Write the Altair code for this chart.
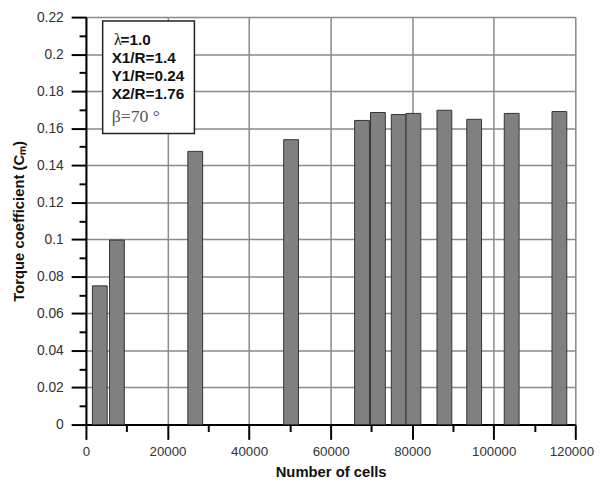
import altair as alt
import pandas as pd

# ---- data ----
cells = [3400, 7600, 26800, 50300, 67700, 71600, 76700, 80300, 87900, 95200, 104400, 116100]
cm = [0.0749, 0.0996, 0.1475, 0.1538, 0.1642, 0.1685, 0.1674, 0.1680, 0.1697, 0.1648, 0.1680, 0.1690]

x_ticks = list(range(0, 120001, 10000))
y_ticks = [round(i * 0.01, 2) for i in range(0, 23)]

# annotation box (data coordinates)
box_x = [4100]
box_x2 = [26600]
box_y = [0.2179]
box_y2 = [0.1571]

ann_bold_text = ["=1.0", "X1/R=1.4", "Y1/R=0.24", "X2/R=1.76"]
ann_bold_x = [8500, 6300, 6300, 6300]
ann_bold_y = [0.2074, 0.1977, 0.1880, 0.1785]

ann_serif_text = ["λ", "β=70 °"]
ann_serif_x = [6900, 6300]
ann_serif_y = [0.2074, 0.1662]
ann_serif_size = [16, 18]
ann_serif_color = ["#111111", "#555555"]

df = pd.DataFrame({"cells": cells, "cm": cm})
box_df = pd.DataFrame({"x": box_x, "x2": box_x2, "y": box_y, "y2": box_y2})
bold_df = pd.DataFrame({"t": ann_bold_text, "x": ann_bold_x, "y": ann_bold_y})
serif_df = pd.DataFrame({"t": ann_serif_text, "x": ann_serif_x, "y": ann_serif_y,
                         "s": ann_serif_size, "c": ann_serif_color})

FONT = "Liberation Sans"

xscale = alt.Scale(domain=[0, 120000], nice=False, zero=False, padding=0)
yscale = alt.Scale(domain=[0, 0.22], nice=False, padding=0)

x_major = "round(datum.value/10000) % 2 == 0"
y_major = "round(datum.value*100) % 2 == 0"

x_axis = alt.Axis(
    values=x_ticks,
    labelExpr=f"{x_major} ? format(datum.value, 'd') : ''",
    title="Number of cells",
    titleFont=FONT, titleFontSize=15, titleFontWeight="bold", titleColor="#111111",
    titlePadding=7,
    labelFont=FONT, labelFontSize=13.5, labelColor="#333333", labelPadding=5,
    labelOffset={"condition": {"test": "datum.value >= 120000", "value": -4}, "value": 0},
    labelFlush=False, labelOverlap=False,
    domainColor="#000000", domainWidth=2,
    tickColor="#000000", tickWidth=2,
    tickSize={"condition": {"test": x_major, "value": 15}, "value": 7},
    grid=True, gridColor="#8a8a8a", gridWidth=1.5,
    gridOpacity={"condition": {"test": x_major, "value": 1}, "value": 0},
)

y_axis = alt.Axis(
    values=y_ticks,
    labelExpr=f"{y_major} ? format(datum.value, '~g') : ''",
    title="Torque coefficient (Cₘ)",
    titleFont=FONT, titleFontSize=15, titleFontWeight="bold", titleColor="#111111",
    titlePadding=10,
    labelFont=FONT, labelFontSize=14, labelColor="#333333", labelPadding=8,
    labelFlush=False, labelOverlap=False,
    domainColor="#000000", domainWidth=2,
    tickColor="#000000", tickWidth=2,
    tickSize={"condition": {"test": y_major, "value": 15}, "value": 7},
    grid=True, gridColor="#8a8a8a", gridWidth=1.5,
    gridOpacity={"condition": {"test": y_major, "value": 1}, "value": 0},
)

bars = alt.Chart(df).mark_bar(size=15, color="#808080", stroke="#333333", strokeWidth=1).encode(
    x=alt.X("cells:Q", scale=xscale, axis=x_axis),
    y=alt.Y("cm:Q", scale=yscale, axis=y_axis),
)

box = alt.Chart(box_df).mark_rect(fill="white", stroke="#222222", strokeWidth=1.5).encode(
    x=alt.X("x:Q", scale=xscale, axis=None), x2="x2:Q",
    y=alt.Y("y:Q", scale=yscale, axis=None), y2="y2:Q",
)

bold_text = alt.Chart(bold_df).mark_text(
    align="left", baseline="middle", font=FONT, fontSize=15.5, fontWeight="bold", color="#111111"
).encode(
    x=alt.X("x:Q", scale=xscale, axis=None), y=alt.Y("y:Q", scale=yscale, axis=None), text="t:N"
)

serif_text = alt.Chart(serif_df).mark_text(
    align="left", baseline="middle", font="Liberation Serif"
).encode(
    x=alt.X("x:Q", scale=xscale, axis=None), y=alt.Y("y:Q", scale=yscale, axis=None), text="t:N",
    size=alt.Size("s:Q", scale=None, legend=None),
    color=alt.Color("c:N", scale=None, legend=None),
)

chart = alt.layer(bars, box, bold_text, serif_text).resolve_axis(
    x="independent", y="independent"
).properties(
    width=496, height=413,
    autosize=alt.AutoSizeParams(type="none"),
    padding={"left": 79, "top": 6, "right": 22, "bottom": 56},
).configure_view(stroke=None).configure(background="white")

chart.save("out.html", embed_options={"renderer": "svg", "actions": False})
